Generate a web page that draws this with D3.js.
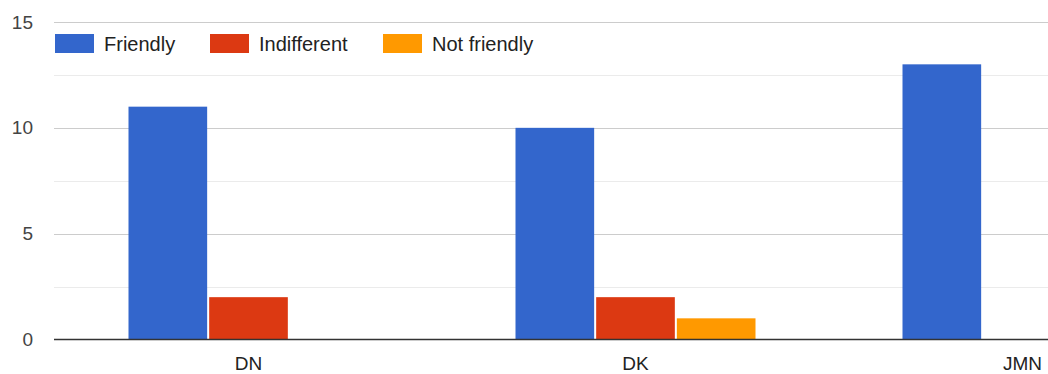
<!DOCTYPE html>
<html>
<head>
<meta charset="utf-8">
<script src="https://cdn.jsdelivr.net/npm/d3@7"></script>
<style>
  html, body { margin: 0; padding: 0; background: #fff; }
  svg { display: block; font-family: Arial, "Liberation Sans", sans-serif; }
</style>
</head>
<body>
<svg id="chart" width="1048" height="374"></svg>
<script>
const categories = ["DN", "DK", "JMN"];
const seriesNames = ["Friendly", "Indifferent", "Not friendly"];
const friendly = [11, 10, 13];
const indifferent = [2, 2, 0];
const notFriendly = [0, 1, 0];
const seriesColors = ["#3366cc", "#dc3912", "#ff9900"];
const yTicks = [0, 5, 10, 15];
const yMinorTicks = [2.5, 7.5, 12.5];

const values = [friendly, indifferent, notFriendly];
const W = 1048, H = 374;
const plotLeft = 54, plotRight = 1048;
const step = 387;
const svg = d3.select("#chart");

const y = d3.scaleLinear().domain([0, 15]).range([339.5, 22]);
const x0 = d3.scaleBand().domain(categories).range([plotLeft + 1, plotLeft + 1 + step * categories.length]).padding(0);
const groupW = 240;
const x1 = d3.scaleBand().domain(seriesNames)
  .range([(x0.bandwidth() - groupW) / 2, (x0.bandwidth() + groupW) / 2])
  .paddingInner(0.025);

// minor gridlines
svg.append("g").selectAll("line").data(yMinorTicks).join("line")
  .attr("x1", plotLeft).attr("x2", plotRight)
  .attr("y1", d => Math.round(y(d)) + 0.5).attr("y2", d => Math.round(y(d)) + 0.5)
  .attr("stroke", "#ebebeb").attr("stroke-width", 1);

// major gridlines
svg.append("g").selectAll("line").data(yTicks.filter(d => d !== 0)).join("line")
  .attr("x1", plotLeft).attr("x2", plotRight)
  .attr("y1", d => Math.round(y(d)) + 0.5).attr("y2", d => Math.round(y(d)) + 0.5)
  .attr("stroke", "#cccccc").attr("stroke-width", 1);

// y tick labels
svg.append("g").selectAll("text").data(yTicks).join("text")
  .attr("x", 33).attr("y", d => y(d))
  .attr("dy", "0.35em")
  .attr("text-anchor", "end")
  .attr("font-size", 19).attr("fill", "#444")
  .text(d => d);

// bars
const groups = svg.append("g").selectAll("g").data(categories).join("g")
  .attr("transform", d => `translate(${x0(d)},0)`);
groups.selectAll("rect")
  .data((c, ci) => seriesNames.map((s, si) => ({ s, si, v: values[si][ci] })).filter(d => d.v > 0))
  .join("rect")
  .attr("x", d => x1(d.s))
  .attr("width", x1.bandwidth())
  .attr("y", d => y(d.v))
  .attr("height", d => y(0) - y(d.v))
  .attr("fill", d => seriesColors[d.si]);

// baseline
svg.append("line")
  .attr("x1", plotLeft).attr("x2", plotRight)
  .attr("y1", y(0)).attr("y2", y(0))
  .attr("stroke", "#333").attr("stroke-width", 1.3);

// x labels
svg.append("g").selectAll("text").data(categories).join("text")
  .attr("x", d => x0(d) + x0.bandwidth() / 2)
  .attr("y", 370)
  .attr("text-anchor", "middle")
  .attr("font-size", 19).attr("fill", "#222")
  .text(d => d);

// legend
const legendX = [55, 210, 383];
const leg = svg.append("g").selectAll("g").data(seriesNames).join("g")
  .attr("transform", (d, i) => `translate(${legendX[i]},34)`);
leg.append("rect").attr("width", 39).attr("height", 19)
  .attr("fill", (d, i) => seriesColors[i]);
leg.append("text").attr("x", 49).attr("y", 17)
  .attr("font-size", 20).attr("fill", "#222")
  .text(d => d);
</script>
</body>
</html>
